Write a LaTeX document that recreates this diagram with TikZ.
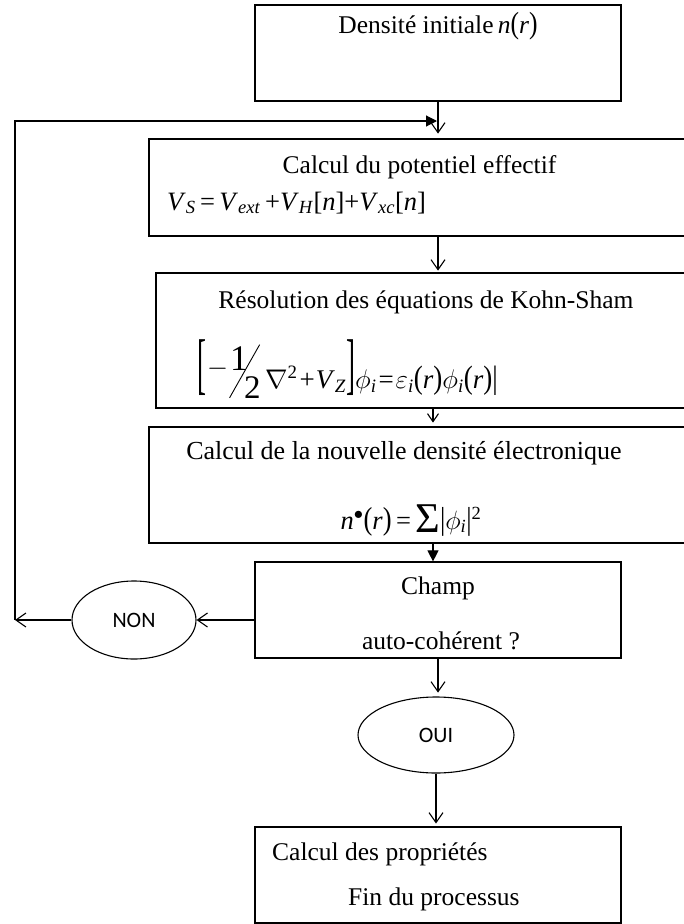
\RequirePackage{fix-cm}
\documentclass[tikz,border=0pt]{standalone}
\usepackage{fontspec}
\setmainfont{Liberation Serif}
\newfontfamily\calibrifont{Carlito}
\usepackage{graphicx}
\usetikzlibrary{arrows.meta,shapes.geometric}
\newcommand{\sbr}[2][1.3]{\scalebox{1}[#1]{#2}}
\newcommand{\iv}[1]{\textit{#1}}
\newcommand{\mysub}[1]{\textsubscript{\textit{#1}}}
\newcommand{\bigbrk}[1]{\raisebox{2pt}{\scalebox{1}[2.5]{#1}}}
\newcommand{\halffrac}{\makebox[37pt][l]{%
  \rlap{\kern1pt\raisebox{-10pt}{\rotatebox{60.5}{\rule{61pt}{0.9pt}}}}%
  \rlap{\kern2pt\raisebox{18pt}{\fontsize{36}{36}\selectfont 1}}%
  \kern16pt\raisebox{-10pt}{\fontsize{33}{33}\selectfont 2}}}
\begin{document}
\begin{tikzpicture}[x=1pt,y=-1pt,
  box/.style={draw, line width=1.2pt, rectangle, inner sep=0pt},
  oval/.style={draw, line width=1.1pt, ellipse, inner sep=0pt, font=\calibrifont\fontsize{22}{24}\selectfont},
  txt/.style={inner sep=0pt, font=\fontsize{25.5}{30}\selectfont},
  mth/.style={inner sep=0pt, font=\fontsize{26.5}{30}\selectfont},
  arr/.style={line width=1.1pt, -{Straight Barb[length=10pt,width=14pt]}},
  sarr/.style={line width=1.1pt, -{Straight Barb[length=8pt,width=11pt]}},
  farr/.style={line width=1.1pt, -{Triangle[length=11pt,width=11pt]}},
]
\useasboundingbox (0,0) rectangle (684,924);
\clip (0,0) rectangle (684,924);
\fill[white] (0,0) rectangle (684,924);

% boxes
\node[box, minimum width=366pt, minimum height=96pt] (b1) at (438,53) {};
\node[box, minimum width=541pt, minimum height=97pt] (b2) at (419.5,187.5) {};
\node[box, minimum width=534pt, minimum height=135pt] (b3) at (423,340.5) {};
\node[box, minimum width=541pt, minimum height=116pt] (b4) at (419.5,485) {};
\node[box, minimum width=366pt, minimum height=96pt] (b5) at (438,610) {};
\node[box, minimum width=366pt, minimum height=96pt] (b6) at (438,875) {};
\node[oval, minimum width=124pt, minimum height=78pt] (non) at (134,620) {NON};
\node[oval, minimum width=156pt, minimum height=76pt] (oui) at (436,735) {OUI};

% texts
\node[txt, anchor=base] (t1) at (438,33) {Densité initiale\,\iv{n}\sbr[1.2]{(}\iv{r}\sbr[1.2]{)}};
\node[txt, anchor=base] (t2a) at (419.5,173) {Calcul du potentiel effectif};
\node[mth, anchor=base west] (t2b) at (167,210) {\iv{V}\mysub{S}\,=\,\iv{V}\mysub{ext}\,+\iv{V}\mysub{H}[\iv{n}]+\iv{V}\mysub{xc}[\iv{n}]};
\node[txt, anchor=base] (t3a) at (426,308) {Résolution des équations de Kohn-Sham};
\node[inner sep=0pt, font=\fontsize{27}{30}\selectfont, anchor=base west] (t3b) at (197,388) {\bigbrk{[}\kern1pt\raisebox{13pt}{$-$}\halffrac$\nabla$\textsuperscript{2}\kern2pt+\kern1pt\iv{V}\mysub{Z}\bigbrk{]}$\phi$\mysub{i}\kern2pt=\kern2pt$\varepsilon$\mysub{i}\sbr[1.2]{(}\iv{r}\sbr[1.2]{)}$\phi$\mysub{i}\sbr[1.2]{(}\iv{r}\sbr[1.2]{)}\sbr[1.2]{|}};
\node[inner sep=0pt, font=\fontsize{26}{30}\selectfont, anchor=base] (t4a) at (404,459) {Calcul de la nouvelle densité électronique};
\node[mth, anchor=base] (t4b) at (411,529) {\iv{n}\textsuperscript{$\bullet$}\sbr[1.2]{(}\iv{r}\sbr[1.2]{)}\,=\,\raisebox{-3pt}{\scalebox{1.6}{Σ}}\sbr[1.2]{|}$\phi$\mysub{i}\sbr[1.2]{|}\textsuperscript{2}};
\node[txt, anchor=base] (t5a) at (438,594) {Champ};
\node[txt, anchor=base] (t5b) at (441,649) {auto-cohérent ?};
\node[txt, anchor=base west] (t6a) at (272,860) {Calcul des propriétés};
\node[txt, anchor=base west] (t6b) at (348,905) {Fin du processus};

% connector points
\coordinate (xa) at (438,0);
\coordinate (xb) at (433,0);
\coordinate (fbl) at (15,620);
\coordinate (fbt) at (437,121);

% connectors
\draw[farr] (fbl) |- (fbt);
\draw[arr] (b1.south) -- ++(0,32);
\draw[arr] (b2.south -| xa) -- ++(0,34);
\draw[sarr] (b3.south -| xb) -- ++(0,14);
\draw[farr] (b4.south -| xb) -- (b5.north -| xb);
\draw[arr] (b5.west |- non.east) -- (non.east);
\draw[arr] (non.west) -- (fbl);
\draw[arr] (b5.south) -- ++(0,34);
\draw[arr] (oui.south) -- ++(0,50);
\end{tikzpicture}
\end{document}
